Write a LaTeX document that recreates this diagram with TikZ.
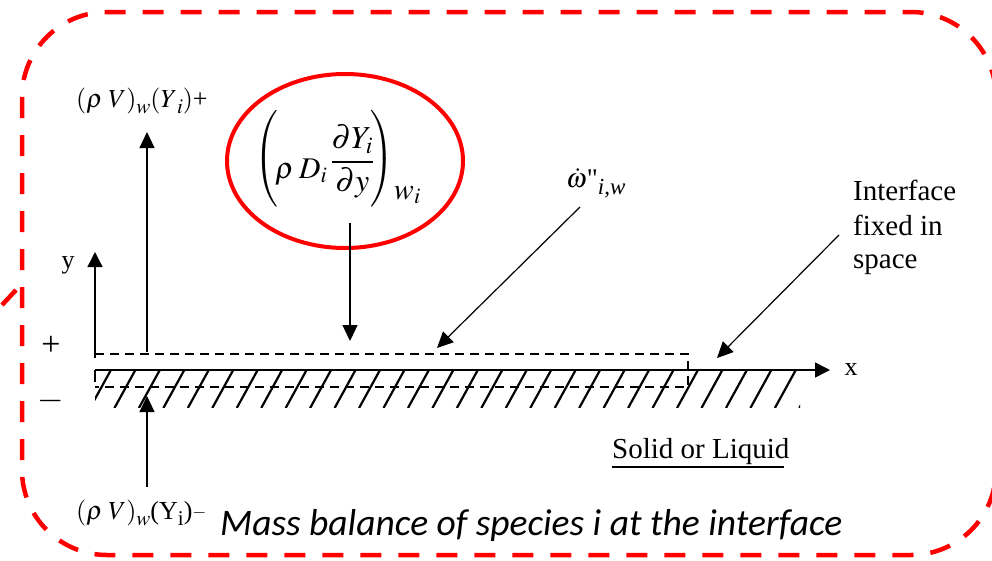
\documentclass[tikz,border=0pt]{standalone}
\usepackage{mathptmx}
\usepackage{fontspec}
\setmainfont{Liberation Serif}
\newfontfamily\calib{Carlito}
\usetikzlibrary{arrows.meta}
\newcommand{\lsub}[1]{\raisebox{-6pt}{\fontsize{21}{24}\selectfont#1}}
\begin{document}
\begin{tikzpicture}[x=1pt,y=-1pt,
  frame/.style={draw=red, line width=4.5pt, dash pattern=on 21pt off 17pt, rounded corners=85pt},
  ax/.style={line width=1.4pt, -{Triangle[length=15pt,width=15pt]}},
  ptr/.style={line width=1.2pt, -{Triangle[length=16pt,width=15pt]}},
  cv/.style={line width=1.2pt, dash pattern=on 9pt off 6pt},
  hatchline/.style={line width=2.2pt},
  lbl/.style={inner sep=0pt, font=\fontsize{26}{30}\selectfont},
  big/.style={inner sep=0pt, font=\fontsize{29}{35}\selectfont},
]
\useasboundingbox (0,0) rectangle (992,560);

% red dashed frame
\draw[frame] (22,12) rectangle (996,555);
\coordinate (s1) at (2,305);
\coordinate (s2) at (16,290);
\draw[red, line width=4.5pt] (s1) -- (s2);

% hatching
\begin{scope}
  \clip (95,370) rectangle (800,407);
  \foreach \k in {-1,...,29}
    \draw[hatchline] ({112+24.46*\k},368) -- ++(-22,40);
\end{scope}

% axes
\coordinate (o) at (95,370);
\coordinate (xend) at (830,370);
\coordinate (ybase) at (95,358);
\coordinate (ytip) at (95,252);
\coordinate (tick) at (95,382);
\draw[ax] (o) -- (xend);
\draw[line width=1.4pt] (o) -- (tick);
\draw[ax] (ybase) -- (ytip);
\node[lbl] (xlab) at (851,370) {x};
\node[lbl] (ylab) at (68,265) {y};
\node[lbl, font=\fontsize{34}{38}\selectfont] (plus) at (51,346) {+};
\node[lbl, font=\fontsize{34}{38}\selectfont] (minus) at (51,401) {$-$};

% control volume
\coordinate (cv1) at (95,354);
\coordinate (cv2) at (688,354);
\coordinate (cv3) at (688,387);
\coordinate (cv4) at (95,387);
\draw[cv] (cv1) -- (cv2) -- (cv3) -- (cv4);

% upward convective flux above
\node[lbl, anchor=west] (uplab) at (76,101) {$(\rho\;V)$\lsub{$w$}$(Y$\lsub{$i$}$)$+};
\coordinate (upbase) at (147,352);
\coordinate (uptip) at (147,132);
\draw[ptr] (upbase) -- (uptip);

% upward convective flux below
\node[lbl, anchor=west] (lolab) at (76,513) {$(\rho\;V)$\lsub{$w$}(Y\lsub{i})\raisebox{2pt}{\fontsize{18}{20}\selectfont$-$}};
\coordinate (lobase) at (147,487);
\coordinate (lotip) at (147,396);
\draw[ptr] (lobase) -- (lotip);

% diffusion term
\draw[red, line width=4pt] (345,161) ellipse [x radius=118, y radius=87];
\node[inner sep=0pt, anchor=base west, font=\fontsize{30}{34}\selectfont] (diff) at (254,178) {%
  \raisebox{12.5pt}{\fontsize{27}{32}\selectfont$\left(\rule[-41pt]{0pt}{96pt}\right.$}\kern-4pt
  $\rho$\hspace{5pt}$D_i$\hspace{3pt}\raisebox{8pt}{\fontsize{32}{36}\selectfont$\displaystyle\frac{\partial Y_i}{\partial y}$}\kern-5pt
  \raisebox{12.5pt}{\fontsize{27}{32}\selectfont$\left.\rule[-41pt]{0pt}{96pt}\right)$}\raisebox{-21pt}{$w_i$}};
\coordinate (dbase) at (350,223);
\coordinate (dtip) at (350,341);
\draw[ptr] (dbase) -- (dtip);

% reaction term
\node[inner sep=0pt, font=\fontsize{27}{30}\selectfont, anchor=base west] (om) at (566,187) {$\dot{\omega}$\textquotedbl\raisebox{-7pt}{\fontsize{23}{26}\selectfont\itshape i,w}};
\coordinate (obase) at (580,207);
\coordinate (otip) at (437,348);
\draw[ptr] (obase) -- (otip);

% interface
\node[big, anchor=base west] (if1) at (853,200) {Interface};
\node[big, anchor=base west] (if2) at (853,235) {fixed in};
\node[big, anchor=base west] (if3) at (853,268) {space};
\coordinate (ibase) at (839,235);
\coordinate (itip) at (717,358);
\draw[ptr] (ibase) -- (itip);

% solid or liquid
\node[big, anchor=base west] (sol) at (612,458) {Solid or Liquid};
\draw[line width=1.5pt] ([yshift=-9pt]sol.base west) -- ([xshift=-6pt,yshift=-9pt]sol.base east);

% caption
\node[inner sep=0pt, anchor=base west, font=\calib\itshape\fontsize{37.5}{42}\selectfont] (cap) at (220,535)
  {Mass balance of species i at the interface};
\end{tikzpicture}
\end{document}
